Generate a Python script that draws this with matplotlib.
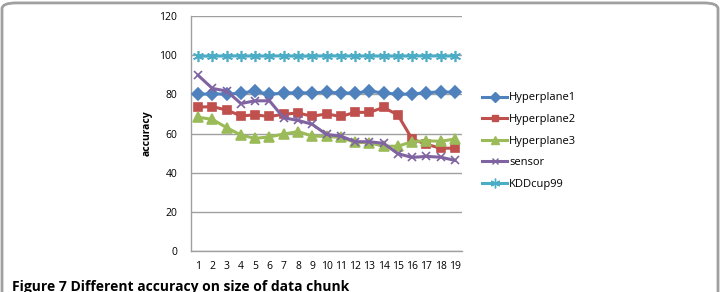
#Accuracy of each data set against size of data chunk

import numpy as np
import matplotlib.pyplot as plt
from matplotlib.patches import FancyBboxPatch
from matplotlib.lines import Line2D

plt.rcParams['font.family'] = ['Open Sans', 'DejaVu Sans']

chunks = list(range(1, 20))
hyperplane1 = [80.0, 80.3, 80.0, 80.7, 81.5, 80.0, 80.7, 80.8, 80.7, 81.2,
               80.6, 80.7, 81.5, 80.8, 80.0, 80.2, 80.8, 81.3, 81.0]
hyperplane2 = [73.5, 73.7, 72.0, 69.0, 69.5, 68.7, 69.8, 70.5, 68.8, 70.0,
               68.7, 70.8, 70.8, 73.3, 69.5, 57.2, 54.5, 52.5, 52.5]
hyperplane3 = [68.3, 67.2, 63.0, 59.2, 57.5, 58.3, 59.7, 61.0, 58.7, 58.5,
               58.0, 55.5, 55.3, 53.5, 53.5, 55.8, 56.3, 56.0, 57.2]
sensor = [89.7, 83.0, 81.7, 75.3, 76.7, 76.7, 68.0, 66.7, 64.7, 59.5,
          58.7, 55.8, 55.8, 55.0, 49.7, 47.8, 48.3, 47.9, 46.3]
kddcup99 = [99.5, 99.5, 99.6, 99.6, 99.5, 99.6, 99.6, 99.5, 99.5, 99.6,
            99.6, 99.5, 99.6, 99.5, 99.5, 99.6, 99.6, 99.6, 99.5]

series = [
    ('Hyperplane1', hyperplane1, '#4F81BD', 'D', 6),
    ('Hyperplane2', hyperplane2, '#C0504D', 's', 6),
    ('Hyperplane3', hyperplane3, '#9BBB59', '^', 7),
    ('sensor', sensor, '#8064A2', 'x', 6),
    ('KDDcup99', kddcup99, '#4BACC6', (6, 2, 0), 8),
]

W, H = 724, 292
fig = plt.figure(figsize=(W / 100, H / 100), dpi=100)
ax = fig.add_axes([191 / W, 1 - 251 / H, (462 - 191) / W, (251 - 16) / H])

for name, vals, col, mk, ms in series:
    ax.plot(chunks, vals, color=col, linewidth=2.2, marker=mk, markersize=ms,
            markeredgewidth=1.2, markeredgecolor=col, label=name, zorder=3)

ax.set_xlim(0.5, 19.5)
ax.set_ylim(0, 120)
ax.set_yticks(range(0, 121, 20))
ax.set_xticks(chunks)
ax.grid(axis='y', color='#A0A0A0', linewidth=1.0)
ax.set_axisbelow(True)
for s in ['top', 'right']:
    ax.spines[s].set_visible(False)
for s in ['left', 'bottom']:
    ax.spines[s].set_color('#A0A0A0')
    ax.spines[s].set_linewidth(1.0)
ax.tick_params(axis='y', length=0, labelsize=7.5, pad=10)
ax.tick_params(axis='x', length=0, labelsize=7.5, pad=7)
ax.set_ylabel('accuracy', fontsize=7.5, fontweight='bold', labelpad=5)

handles = [Line2D([], [], color=col, linewidth=2.2, marker=mk, markersize=ms - 1,
                  markeredgewidth=1.0, markeredgecolor=col)
           for name, vals, col, mk, ms in series]
fig.legend(handles, [s[0] for s in series], loc='upper left',
           bbox_to_anchor=(478 / W, 1 - 88 / H), frameon=False, fontsize=8,
           handlelength=2.2, handletextpad=0.2, labelspacing=0.95,
           borderaxespad=0)

fig.text(12 / W, 1 - 280 / H, 'Figure 7 Different accuracy on size of data chunk',
         fontsize=10, fontweight='bold', va='top', ha='left')

# outer rounded frame
frame = FancyBboxPatch((2 / W, -0.2), (716 / W), 1.19,
                       boxstyle='round,pad=0,rounding_size=0.02',
                       transform=fig.transFigure, facecolor='none',
                       edgecolor='#A0A0A0', linewidth=2)
fig.patches.append(frame)

plt.savefig('out.png', dpi=100)
